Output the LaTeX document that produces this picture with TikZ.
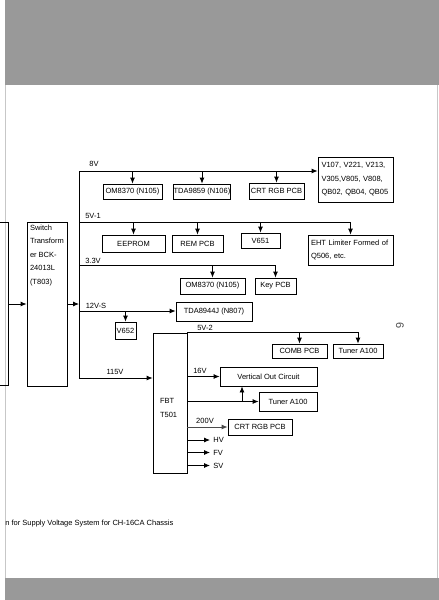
\documentclass[tikz,border=0pt]{standalone}
\usepackage{fontspec}
\setmainfont{Liberation Sans}
\usetikzlibrary{arrows.meta, positioning}

\begin{document}
\begin{tikzpicture}[x=1pt, y=-1pt, line width=0.8pt,
                    every node/.style={font=\fontsize{7.5}{13.5}\selectfont, inner sep=0pt},
                    blk/.style={draw, rectangle, align=center},
                    lbl/.style={inner sep=0pt},
                    feed/.style={-{Latex[length=6pt, width=5pt]}}]
                    \useasboundingbox (0,0) rectangle (439,600);
                    \fill[black!40] (5,0) rectangle (439,85);
                    \fill[black!40] (5,578) rectangle (439,600);
                    \draw[black!22, line width=0.6pt] (5,85) -- (5,578);
                    \draw[black!22, line width=0.6pt] (437,85) -- (437,578);
                    % supply side
                    \node[draw, minimum width=20pt, minimum height=163pt](src) at (-2,303.5){};
                    \node[blk, minimum width=40pt, minimum height=164pt,
                          label={[lbl, anchor=north west, align=left, xshift=3pt, yshift=-3pt]north west:Switch\\Transform\\er BCK-\\24013L\\(T803)}](sw) at (47,304){};
                    \coordinate(b8) at (79,171);
                    \coordinate(b5) at (79,222);
                    \coordinate(b3) at (79,265);
                    \coordinate(b12) at (79,311);
                    \coordinate(b115) at (79,378);
                    \node[lbl](l8) at (94,164){8V};
                    \node[lbl](l5) at (93,216){5V-1};
                    \node[lbl](l3) at (93,261){3.3V};
                    \node[lbl](l12) at (96,306){12V-S};
                    \node[lbl](l115) at (115,372){115V};
                    % 8V loads
                    \node[blk, minimum width=59pt, minimum height=15pt](om1) at (132.5,191.5){OM8370 (N105)};
                    \node[blk, minimum width=56pt, minimum height=15pt](tda1) at (202,191.5){TDA9859 (N106)};
                    \node[blk, minimum width=55pt, minimum height=16pt](crt1) at (276.5,191){CRT RGB PCB};
                    \node[blk, align=left, text width=68pt, minimum height=45pt, inner xsep=3.5pt](vlist) at (355.5,179.5){V107, V221, V213,\\V305,V805, V808,\\QB02, QB04, QB05};
                    % 5V-1 loads
                    \node[blk, minimum width=63pt, minimum height=17pt](eeprom) at (133.5,243.5){EEPROM};
                    \node[blk, minimum width=51pt, minimum height=17pt](rem) at (197.5,243.5){REM PCB};
                    \node[blk, minimum width=39pt, minimum height=15pt](v651) at (260.5,240.5){V651};
                    \node[blk, align=left, text width=79pt, minimum height=30pt, inner xsep=3pt](eht) at (350.5,250){EHT Limiter Formed of\\Q506, etc.};
                    % 3.3V and 12V-S loads
                    \node[blk, minimum width=65pt, minimum height=16pt](om2) at (212.5,286){OM8370 (N105)};
                    \node[blk, minimum width=41pt, minimum height=16pt](key) at (275.5,286){Key PCB};
                    \node[blk, minimum width=76pt, minimum height=19pt](tda2) at (214,311.5){TDA8944J (N807)};
                    \node[blk, minimum width=21pt, minimum height=17pt](v652) at (125.5,330.5){V652};
                    % flyback side
                    \node[blk, minimum width=34pt, minimum height=140pt,
                          label={[lbl, anchor=west, align=left, xshift=7pt, yshift=-5pt]west:FBT\\T501}](fbt) at (170,403){};
                    \node[lbl](l52) at (205,328){5V-2};
                    \node[blk, minimum width=55pt, minimum height=14pt](comb) at (299.5,351){COMB PCB};
                    \node[blk, minimum width=50pt, minimum height=14pt](tun1) at (358,351){Tuner A100};
                    \node[lbl](l16) at (200,371){16V};
                    \node[blk, minimum width=97pt, minimum height=19pt](vout) at (268.5,376.5){Vertical Out Circuit};
                    \node[blk, minimum width=58pt, minimum height=19pt](tun2) at (288,401.5){Tuner A100};
                    \node[lbl](l200) at (205,421){200V};
                    \node[blk, minimum width=64pt, minimum height=16pt](crt2) at (260,427){CRT RGB PCB};
                    \node[lbl, anchor=west, inner xsep=3pt](hv) at (210,440){HV};
                    \node[lbl, anchor=west, inner xsep=3pt](fv) at (210,452.5){FV};
                    \node[lbl, anchor=west, inner xsep=3pt](sv) at (210,465.5){SV};
                    \coordinate(tap) at (242,401.5);
                    % connectors
                    \draw[feed] (src.east |- sw) -- (sw.west);
                    \draw[feed] (sw.east) -- (sw.east -| b8);
                    \draw (b8) -- (b115);
                    \draw[feed] (b8) -- (b8 -| vlist.west);
                    \draw[feed] (om1.north |- b8) -- (om1.north);
                    \draw[feed] (tda1.north |- b8) -- (tda1.north);
                    \draw[feed] (crt1.north |- b8) -- (crt1.north);
                    \draw[feed] (b5) -- (b5 -| eht.north) -- (eht.north);
                    \draw[feed] (eeprom.north |- b5) -- (eeprom.north);
                    \draw[feed] (rem.north |- b5) -- (rem.north);
                    \draw[feed] (v651.north |- b5) -- (v651.north);
                    \draw[feed] (b3) -- (b3 -| key.north) -- (key.north);
                    \draw[feed] (om2.north |- b3) -- (om2.north);
                    \draw[feed] (b12) -- (b12 -| tda2.west);
                    \draw[feed] (v652.north |- b12) -- (v652.north);
                    \draw[feed] (b115) -- (b115 -| fbt.west);
                    \draw[feed] (fbt.north east) -- (fbt.north -| tun1) -- (tun1.north);
                    \draw[feed] (comb.north |- fbt.north) -- (comb.north);
                    \draw[feed] (fbt.east |- vout) -- (vout.west);
                    \draw[feed] (fbt.east |- tun2) -- (tun2.west);
                    \draw[feed] (tap) -- (tap |- vout.south);
                    \draw[feed, black!70] (fbt.east |- crt2) -- (crt2.west);
                    \draw[feed] (fbt.east |- hv) -- (hv.west);
                    \draw[feed] (fbt.east |- fv) -- (fv.west);
                    \draw[feed] (fbt.east |- sv) -- (sv.west);
                    % page text
                    \node[lbl, anchor=west](cap) at (5,524){n for Supply Voltage System for CH-16CA Chassis};
                    \node[lbl, rotate=-90, font=\fontsize{11}{12}\selectfont, text=black!70](pg) at (400,326){6};
                \end{tikzpicture}
\end{document}
